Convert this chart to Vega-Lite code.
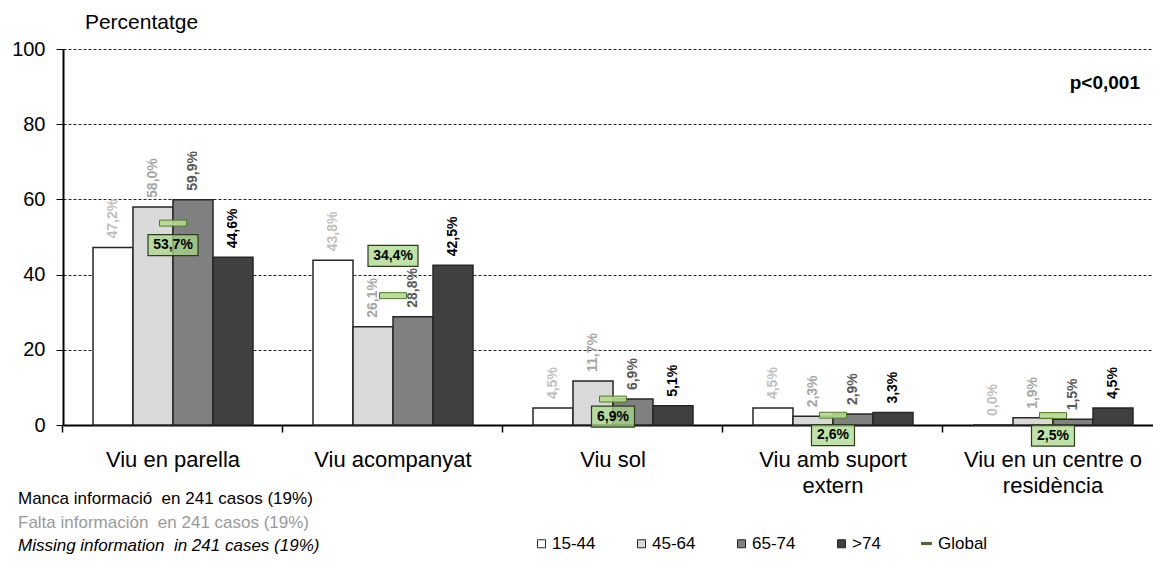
{
  "$schema": "https://vega.github.io/schema/vega-lite/v6.json",
  "autosize": "none",
  "width": 1090,
  "height": 376,
  "padding": {"left": 63, "top": 49, "right": 0, "bottom": 136},
  "background": "white",
  "config": {
    "font": "Liberation Sans",
    "view": {"stroke": null},
    "locale": {"number": {"decimal": ",", "thousands": ".", "grouping": [3], "currency": ["", "%"]}},
    "axis": {"labelFont": "Liberation Sans", "titleFont": "Liberation Sans", "labelColor": "#000", "titleColor": "#000"},
    "legend": {"labelFont": "Liberation Sans", "labelColor": "#000"}
  },
  "datasets": {
    "bars": [
      {"cat": "Viu en parella", "age": "15-44", "value": 47.2},
      {"cat": "Viu en parella", "age": "45-64", "value": 58.0},
      {"cat": "Viu en parella", "age": "65-74", "value": 59.9},
      {"cat": "Viu en parella", "age": ">74", "value": 44.6},
      {"cat": "Viu acompanyat", "age": "15-44", "value": 43.8},
      {"cat": "Viu acompanyat", "age": "45-64", "value": 26.1},
      {"cat": "Viu acompanyat", "age": "65-74", "value": 28.8},
      {"cat": "Viu acompanyat", "age": ">74", "value": 42.5},
      {"cat": "Viu sol", "age": "15-44", "value": 4.5},
      {"cat": "Viu sol", "age": "45-64", "value": 11.7},
      {"cat": "Viu sol", "age": "65-74", "value": 6.9},
      {"cat": "Viu sol", "age": ">74", "value": 5.1},
      {"cat": "Viu amb suport extern", "age": "15-44", "value": 4.5},
      {"cat": "Viu amb suport extern", "age": "45-64", "value": 2.3},
      {"cat": "Viu amb suport extern", "age": "65-74", "value": 2.9},
      {"cat": "Viu amb suport extern", "age": ">74", "value": 3.3},
      {"cat": "Viu en un centre o residència", "age": "15-44", "value": 0.0},
      {"cat": "Viu en un centre o residència", "age": "45-64", "value": 1.9},
      {"cat": "Viu en un centre o residència", "age": "65-74", "value": 1.5},
      {"cat": "Viu en un centre o residència", "age": ">74", "value": 4.5}
    ],
    "global": [
      {"cat": "Viu en parella", "value": 53.7},
      {"cat": "Viu acompanyat", "value": 34.4},
      {"cat": "Viu sol", "value": 6.9},
      {"cat": "Viu amb suport extern", "value": 2.6},
      {"cat": "Viu en un centre o residència", "value": 2.5}
    ],
    "stat": [{"text": "p<0,001"}],
    "notes": [
      {"line": 1, "text": "Manca informació\u00a0 en 241 casos (19%)"},
      {"line": 2, "text": "Falta información\u00a0 en 241 casos (19%)"},
      {"line": 3, "text": "Missing information\u00a0 in 241 cases (19%)"}
    ]
  },
  "resolve": {"scale": {"shape": "independent"}, "legend": {"shape": "independent"}, "axis": {"x": "independent"}},
  "layer": [
    {
      "data": {"name": "bars"},
      "mark": {"type": "bar", "stroke": "#262626", "strokeWidth": 1.5},
      "encoding": {
        "x": {
          "field": "cat", "type": "nominal",
          "scale": {"domain": ["Viu en parella", "Viu acompanyat", "Viu sol", "Viu amb suport extern", "Viu en un centre o residència"], "range": [0, 1100], "paddingInner": 0.2727, "paddingOuter": 0.13636},
          "axis": {
            "orient": "bottom", "title": null, "ticks": false, "domain": true, "domainColor": "#000", "domainWidth": 2,
            "labelAngle": 0, "labelFontSize": 22, "labelPadding": 24, "labelLineHeight": 26, "labelLimit": 0, "labelBaseline": "top",
            "labelExpr": "datum.value == 'Viu amb suport extern' ? ['Viu amb suport', 'extern'] : datum.value == 'Viu en un centre o residència' ? ['Viu en un centre o', 'residència'] : datum.value"
          }
        },
        "xOffset": {"field": "age", "type": "nominal", "scale": {"domain": ["15-44", "45-64", "65-74", ">74"], "paddingInner": 0, "paddingOuter": 0}},
        "y": {
          "field": "value", "type": "quantitative",
          "scale": {"domain": [0, 100]},
          "axis": {
            "title": "Percentatge", "titleAngle": 0, "titleX": 78, "titleY": -27, "titleAlign": "center", "titleBaseline": "middle",
            "titleFontSize": 21, "titleFontWeight": "normal",
            "values": [0, 20, 40, 60, 80, 100], "labelFontSize": 20, "labelPadding": 11, "tickSize": 7, "tickColor": "#000", "tickWidth": 1,
            "domainColor": "#000", "domainWidth": 2,
            "grid": true, "gridColor": "#222", "gridDash": [3, 2], "gridWidth": 1
          }
        },
        "fill": {
          "field": "age", "type": "nominal",
          "scale": {"domain": ["15-44", "45-64", "65-74", ">74"], "range": ["#ffffff", "#d9d9d9", "#808080", "#404040"]},
          "legend": {
            "title": null, "orient": "none", "legendX": 470, "legendY": 486, "direction": "horizontal",
            "symbolType": "square", "symbolSize": 64, "symbolStrokeColor": "#262626", "symbolStrokeWidth": 1,
            "labelFontSize": 17, "labelOffset": 2, "columnPadding": 37
          }
        }
      }
    },
    {
      "data": {"name": "bars"},
      "mark": {"type": "text", "angle": 270, "align": "left", "baseline": "middle", "dx": 9, "fontSize": 14, "fontWeight": "bold"},
      "encoding": {
        "x": {"field": "cat", "type": "nominal", "axis": null},
        "xOffset": {"field": "age", "type": "nominal"},
        "y": {"field": "value", "type": "quantitative"},
        "text": {"field": "value", "type": "quantitative", "format": "$.1f"},
        "color": {"field": "age", "type": "nominal", "scale": {"domain": ["15-44", "45-64", "65-74", ">74"], "range": ["#c0c0c0", "#a6a6a6", "#595959", "#000000"]}, "legend": null}
      }
    },
    {
      "data": {"name": "global"},
      "mark": {"type": "point", "filled": true, "fill": "#b4d98c", "fillOpacity": 0.9, "stroke": "#4f7a28", "strokeWidth": 1, "strokeOpacity": 1, "size": 729},
      "encoding": {
        "x": {"field": "cat", "type": "nominal", "axis": {"orient": "bottom", "title": null, "bandPosition": -0.1875, "labels": false, "domain": false, "ticks": true, "tickSize": 7, "tickColor": "#000", "tickWidth": 1.5, "grid": false}},
        "y": {"field": "value", "type": "quantitative"},
        "shape": {
          "datum": "Global",
          "scale": {"range": ["M-1,-0.22H1V0.22H-1Z"]},
          "legend": {
            "title": null, "orient": "none", "legendX": 855, "legendY": 486, "direction": "horizontal",
            "symbolSize": 100, "labelFontSize": 17, "labelOffset": 3,
            "encoding": {"symbols": {"fill": {"value": "#4f6228"}, "stroke": {"value": "#4f6228"}, "fillOpacity": {"value": 1}, "strokeWidth": {"value": 1}}}
          }
        }
      }
    },
    {
      "data": {"name": "global"},
      "mark": {"type": "point", "filled": true, "fill": "#a9d88a", "fillOpacity": 0.75, "stroke": "#2b3d1c", "strokeWidth": 1.2, "strokeOpacity": 1, "size": 2500},
      "encoding": {
        "x": {"field": "cat", "type": "nominal", "axis": null},
        "y": {"field": "value", "type": "quantitative"},
        "shape": {
          "field": "cat", "type": "nominal",
          "scale": {
            "domain": ["Viu en parella", "Viu acompanyat", "Viu sol", "Viu amb suport extern", "Viu en un centre o residència"],
            "range": ["M-1,0.46H1V1.3H-1Z", "M-1,-2.01H1V-1.17H-1Z", "M-0.86,0.28H0.86V1.12H-0.86Z", "M-0.86,0.38H0.86V1.22H-0.86Z", "M-0.86,0.38H0.86V1.22H-0.86Z"]
          },
          "legend": null
        }
      }
    },
    {
      "data": {"name": "global"},
      "transform": [{"filter": "datum.cat == 'Viu en parella'"}],
      "mark": {"type": "text", "fontSize": 14, "fontWeight": "bold", "baseline": "middle", "dy": 22, "color": "#000"},
      "encoding": {
        "x": {"field": "cat", "type": "nominal", "axis": null},
        "y": {"field": "value", "type": "quantitative"},
        "text": {"field": "value", "type": "quantitative", "format": "$.1f"}
      }
    },
    {
      "data": {"name": "global"},
      "transform": [{"filter": "datum.cat == 'Viu acompanyat'"}],
      "mark": {"type": "text", "fontSize": 14, "fontWeight": "bold", "baseline": "middle", "dy": -40, "color": "#000"},
      "encoding": {
        "x": {"field": "cat", "type": "nominal", "axis": null},
        "y": {"field": "value", "type": "quantitative"},
        "text": {"field": "value", "type": "quantitative", "format": "$.1f"}
      }
    },
    {
      "data": {"name": "global"},
      "transform": [{"filter": "datum.cat == 'Viu sol'"}],
      "mark": {"type": "text", "fontSize": 14, "fontWeight": "bold", "baseline": "middle", "dy": 17.5, "color": "#000"},
      "encoding": {
        "x": {"field": "cat", "type": "nominal", "axis": null},
        "y": {"field": "value", "type": "quantitative"},
        "text": {"field": "value", "type": "quantitative", "format": "$.1f"}
      }
    },
    {
      "data": {"name": "global"},
      "transform": [{"filter": "datum.cat == 'Viu amb suport extern' || datum.cat == 'Viu en un centre o residència'"}],
      "mark": {"type": "text", "fontSize": 14, "fontWeight": "bold", "baseline": "middle", "dy": 20, "color": "#000"},
      "encoding": {
        "x": {"field": "cat", "type": "nominal", "axis": null},
        "y": {"field": "value", "type": "quantitative"},
        "text": {"field": "value", "type": "quantitative", "format": "$.1f"}
      }
    },
    {
      "data": {"name": "stat"},
      "mark": {"type": "text", "fontSize": 19, "fontWeight": "bold", "align": "right", "baseline": "middle", "dx": 7, "dy": 34, "color": "#000"},
      "encoding": {
        "x": {"datum": "Viu en un centre o residència", "type": "nominal", "bandPosition": 1, "axis": null},
        "y": {"datum": 100, "type": "quantitative"},
        "text": {"field": "text", "type": "nominal"}
      }
    },
    {
      "data": {"name": "notes"},
      "transform": [{"filter": "datum.line == 1"}],
      "mark": {"type": "text", "fontSize": 17, "align": "left", "baseline": "middle", "dx": -75, "dy": 74, "color": "#000"},
      "encoding": {
        "x": {"datum": "Viu en parella", "type": "nominal", "bandPosition": 0, "axis": null},
        "y": {"datum": 0, "type": "quantitative"},
        "text": {"field": "text", "type": "nominal"}
      }
    },
    {
      "data": {"name": "notes"},
      "transform": [{"filter": "datum.line == 2"}],
      "mark": {"type": "text", "fontSize": 17, "align": "left", "baseline": "middle", "dx": -75, "dy": 98, "color": "#9a9a9a"},
      "encoding": {
        "x": {"datum": "Viu en parella", "type": "nominal", "bandPosition": 0, "axis": null},
        "y": {"datum": 0, "type": "quantitative"},
        "text": {"field": "text", "type": "nominal"}
      }
    },
    {
      "data": {"name": "notes"},
      "transform": [{"filter": "datum.line == 3"}],
      "mark": {"type": "text", "fontSize": 17, "fontStyle": "italic", "align": "left", "baseline": "middle", "dx": -75, "dy": 121, "color": "#000"},
      "encoding": {
        "x": {"datum": "Viu en parella", "type": "nominal", "bandPosition": 0, "axis": null},
        "y": {"datum": 0, "type": "quantitative"},
        "text": {"field": "text", "type": "nominal"}
      }
    }
  ]
}
